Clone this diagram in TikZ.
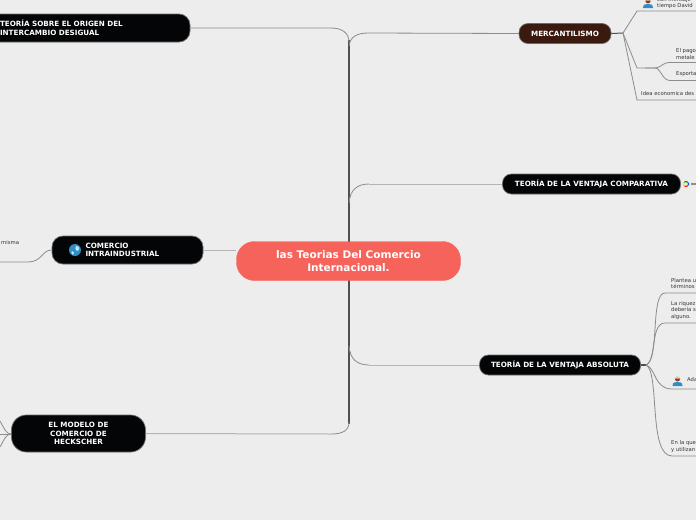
\documentclass[tikz,border=0pt]{standalone}
\usepackage{fontspec}
\setmainfont{DejaVu Sans}
\usepackage{xcolor}
\usetikzlibrary{
  arrows.meta,
  positioning,
  calc
}
\definecolor{mmBack}{HTML}{EDEDED}
\definecolor{mmRoot}{HTML}{F5635B}
\definecolor{mmDark}{HTML}{040506}
\definecolor{mmBrown}{HTML}{3A1A0E}
\definecolor{mmEdge}{HTML}{6A6A6A}
\definecolor{mmLine}{HTML}{8C8C8C}
\definecolor{mmPale}{HTML}{B4B4B4}
\definecolor{mmTrunk}{HTML}{505050}
\definecolor{mmLeaf}{HTML}{333333}
\definecolor{mmSky}{HTML}{2F8FC4}
\definecolor{mmSkin}{HTML}{EFC6A2}
\definecolor{mmHair}{HTML}{8A3B2B}
\tikzset{
  rootnode/.style={
    draw=mmRoot, fill=mmRoot, rounded corners=18pt, minimum width=224pt, minimum height=39pt,
    font=\fontsize{10.5}{13.5}\selectfont\bfseries, text=white, align=center
  },
  topic/.style={
    draw=mmEdge, fill=mmDark, rounded corners=9pt, line width=0.7pt, minimum height=20pt,
    font=\fontsize{7.2}{8.6}\selectfont\bfseries, text=white, align=center, inner sep=0pt
  },
  leaf/.style={
    font=\fontsize{5.3}{6.7}\selectfont, text=mmLeaf, align=left, anchor=west, inner sep=0pt
  },
  branch/.style={draw=mmLine, line width=0.8pt},
  linkpale/.style={draw=mmPale, line width=1pt},
  trunk/.style={draw=mmTrunk, line width=2pt},
  person/.pic={
    \fill[mmSky] (-5,5) .. controls (-5,1) and (-2,1) .. (0,1) .. controls (2,1) and (5,1) .. (5,5) -- cycle;
    \fill[mmSkin] (0,-2) circle (2.7);
    \fill[mmHair] (-2.7,-2.4) arc (180:0:2.7) -- cycle;
  }
}
\begin{document}
\begin{tikzpicture}[x=1pt, y=-1pt]
  \useasboundingbox (0,0) rectangle (696,520);
  \clip (0,0) rectangle (696,520);
  \fill[mmBack] (0,0) rectangle (696,520);

  % free ends of the lines
  \coordinate (trunktop) at (349,40);
  \coordinate (trunkbot) at (349,424);
  \coordinate (mercfork) at (623,33);
  \coordinate (paymentfork) at (645,68);
  \coordinate (absfork) at (646,365);
  \coordinate (intraend) at (0,262);
  \coordinate (modfork) at (11,434);

  % main branches
  \draw[trunk] (trunktop) -- (trunkbot);
  \node[topic, minimum width=220pt, minimum height=28pt, text width=160pt, align=left, rounded corners=11pt] (origen) at (80,28) {TEORÍA SOBRE EL ORIGEN DEL\\INTERCAMBIO DESIGUAL};
  \node[topic, minimum width=151pt, minimum height=28pt, rounded corners=11pt, text width=84pt, align=left] (intra) at (127.5,250) {COMERCIO\\INTRAINDUSTRIAL};
  \node[topic, minimum width=134pt, minimum height=37pt, rounded corners=15pt] (modelo) at (78.5,433.5) {EL MODELO DE\\COMERCIO DE\\HECKSCHER};
  \node[topic, fill=mmBrown, minimum width=92pt] (merc) at (565,33.5) {MERCANTILISMO};
  \node[topic, minimum width=178pt] (comp) at (591.5,184) {TEORÍA DE LA VENTAJA COMPARATIVA};
  \node[topic, minimum width=161pt] (abs) at (560,365) {TEORÍA DE LA VENTAJA ABSOLUTA};

  \draw[branch] (origen.east) -- (331,28) .. controls (342,28) and (349,33) .. (349,42);
  \draw[branch] (merc.west) -- (368,33) .. controls (357,33) and (350,37) .. (349,46);
  \draw[linkpale] (comp.west) -- (369,184);
  \draw[branch] (369,184) .. controls (357,184) and (350,190) .. (349,203);
  \draw[linkpale] (abs.west) -- (369,365);
  \draw[branch] (369,365) .. controls (357,365) and (350,359) .. (349,346);
  \draw[linkpale] (modelo.east) -- (331,434);
  \draw[branch] (331,434) .. controls (342,434) and (349,431) .. (349,422);

  \node[rootnode] (root) at (348.5,261) {las Teorias Del Comercio\\Internacional.};
  \draw[linkpale] (intra.east |- 0,250) -- (root.west |- 0,250);

  % mercantilismo leaves
  \coordinate (m1a) at (637,11);
  \coordinate (m2a) at (637,68);
  \coordinate (m3a) at (637,100);
  \draw[trunk, line width=1pt] (merc.east) -- (mercfork);
  \draw[branch] (mercfork) -- (m1a) -- (696,11);
  \draw[branch] (mercfork) -- (m2a) -- (paymentfork);
  \draw[branch] (mercfork) -- (m3a) -- (696,100);
  \draw[branch] (paymentfork) -- (655,68) .. controls (661,68) and (662,62.5) .. (670,62.5) -- (696,62.5);
  \draw[branch] (paymentfork) -- (655,68) .. controls (661,68) and (662,80.5) .. (670,80.5) -- (696,80.5);
  \pic at (648,3) {person};
  \node[leaf] (m1) at (657,3) {con mensaje\\tiempo David};
  \node[leaf] (m21) at (676,54) {El pago\\metale};
  \node[leaf] (m22) at (676,74) {Esporta};
  \node[leaf] (m3) at (641,94) {Idea economica des};

  % comparativa leaf
  \coordinate (compend) at (696,184);
  \foreach \angfrom/\angto/\gcol in {-45/45/blue!70!cyan, 45/135/red!75!orange, 135/225/yellow!85!orange, 225/315/green!60!black}
    \draw[\gcol, line width=1.1pt] ($(686,184)+(\angfrom:2.5)$) arc (\angfrom:\angto:2.5);
  \draw[draw=mmLine, line width=1.2pt] (691,184) -- (compend);

  % absoluta leaves
  \draw[trunk, line width=1.2pt] (abs.east) -- (absfork);
  \draw[branch] (absfork) .. controls (660,360) and (650,293) .. (665,293) -- (696,293);
  \draw[branch] (absfork) .. controls (657,360) and (650,323) .. (665,323) -- (696,323);
  \draw[branch] (absfork) .. controls (656,368) and (654,389) .. (672,389) -- (696,389);
  \draw[branch] (absfork) .. controls (660,372) and (648,456) .. (672,456) -- (696,456);
  \node[leaf] (a1) at (671,283.5) {Plantea u\\términos};
  \node[leaf] (a2) at (671,310.5) {La riquez\\debería s\\alguno.};
  \pic at (677.5,381) {person};
  \node[leaf] (a3) at (687,380) {Ada};
  \node[leaf] (a4) at (671,446.5) {En la que\\y utilizan};

  % left leaves
  \draw[branch] (intra.west) .. controls (42,250) and (42,262) .. (28,262) -- (intraend);
  \node[leaf] (i1) at (1,243) {misma};
  \draw[branch] (modfork) .. controls (6,434) and (4,428) .. (0,421);
  \draw[branch] (modfork) -- (0,434);
  \draw[branch] (modfork) .. controls (6,434) and (4,440) .. (0,447);

  % globe on the intraindustrial node
  \fill[mmSky] (75,250) circle (6);
  \fill[white!75!cyan] (76,246) .. controls (80,246) and (80,250) .. (77,251) .. controls (75,250) and (75,248) .. (76,246);
  \fill[white!75!cyan] (72,251) .. controls (74,251) and (75,254) .. (73,255) .. controls (71,254) and (71,252) .. (72,251);
\end{tikzpicture}
\end{document}
